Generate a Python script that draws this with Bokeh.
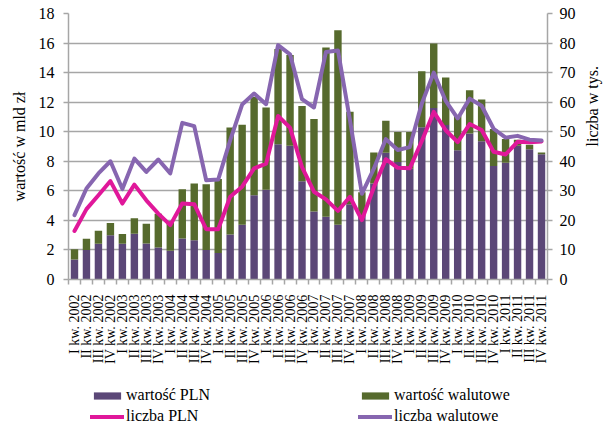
import math
from bokeh.plotting import figure
from bokeh.layouts import column
from bokeh.models import (Range1d, LinearAxis, FixedTicker, Legend, LegendItem,
                          ColumnDataSource, Grid, CustomJSTickFormatter)
from bokeh.embed import file_html
from bokeh.resources import INLINE

quarters = [
    "I kw. 2002", "II kw. 2002", "III kw. 2002", "IV kw. 2002",
    "I kw. 2003", "II kw. 2003", "III kw. 2003", "IV kw. 2003",
    "I kw. 2004", "II kw. 2004", "III kw. 2004", "IV kw. 2004",
    "I kw. 2005", "II kw. 2005", "III kw. 2005", "IV kw. 2005",
    "I kw. 2006", "II kw. 2006", "III kw. 2006", "IV kw. 2006",
    "I kw. 2007", "II kw. 2007", "III kw. 2007", "IV kw. 2007",
    "I kw. 2008", "II kw. 2008", "III kw. 2008", "IV kw. 2008",
    "I kw. 2009", "II kw. 2009", "III kw. 2009", "IV kw. 2009",
    "I kw. 2010", "II kw. 2010", "III kw. 2010", "IV kw. 2010",
    "I kw. 2011", "II kw. 2011", "III kw. 2011", "IV kw. 2011",
]

# wartość (mld zł)
wartosc_pln = [1.35, 2.0, 2.42, 3.0, 2.42, 3.1, 2.44, 2.17, 1.95, 2.78,
               2.65, 2.0, 1.8, 3.05, 3.7, 5.7, 6.08, 9.15, 9.05, 6.65,
               4.6, 4.24, 3.7, 5.1, 4.3, 6.5, 8.57, 7.95, 7.5, 10.3,
               11.6, 10.45, 8.75, 9.88, 9.36, 7.68, 7.9, 9.05, 8.82, 8.48]
wartosc_razem = [2.05, 2.75, 3.3, 3.82, 3.08, 4.15, 3.78, 4.45, 3.95, 6.1,
                 6.5, 6.45, 6.8, 10.28, 10.47, 12.35, 11.64, 15.6, 15.2, 11.74,
                 10.86, 15.7, 16.87, 11.35, 5.9, 8.6, 10.74, 9.98, 9.98, 14.1,
                 15.97, 13.67, 11.1, 12.81, 12.18, 10.18, 9.5, 9.45, 9.12, 8.6]
wartosc_walutowe = [round(t - p, 2) for t, p in zip(wartosc_razem, wartosc_pln)]

# liczba (tys.)
liczba_pln = [16.4, 23.8, 28.5, 33.3, 25.7, 32.1, 26.8, 22.3, 18.4, 25.7,
              25.5, 17.0, 17.0, 28.0, 31.4, 37.6, 39.2, 55.3, 51.4, 38.0,
              29.7, 27.1, 23.2, 28.0, 20.1, 31.2, 40.7, 37.8, 37.6, 46.8,
              56.7, 50.5, 46.5, 52.6, 50.6, 43.2, 42.3, 46.6, 46.4, 46.7]
liczba_walutowe = [21.8, 30.8, 35.9, 40.0, 30.6, 40.9, 36.4, 40.6, 35.9, 53.0,
                   51.9, 33.6, 33.8, 47.1, 59.2, 62.9, 59.3, 79.3, 76.2, 61.0,
                   58.2, 77.0, 77.5, 54.0, 29.0, 37.5, 47.5, 43.8, 44.8, 59.5,
                   70.0, 60.4, 54.5, 61.2, 58.8, 51.0, 48.0, 48.6, 47.3, 47.0]

left_ticks = [0, 2, 4, 6, 8, 10, 12, 14, 16, 18]
right_ticks = [0, 10, 20, 30, 40, 50, 60, 70, 80, 90]

FONT = "Liberation Serif"
C_PLN = "#5b4777"
C_WAL = "#566a2d"
C_LPLN = "#e0189a"
C_LWAL = "#8766b0"
GRID = "#a6a6a6"

n = len(quarters)
xpos = [i + 0.5 for i in range(n)]          # category centres
xbounds = [i for i in range(n + 1)]         # category boundaries (tick marks)

src = ColumnDataSource(dict(x=xpos, pln=wartosc_pln, wal=wartosc_walutowe,
                            lp=liczba_pln, lw=liczba_walutowe))

p = figure(width=614, height=380,
           x_range=Range1d(0, n), y_range=Range1d(0, 18),
           output_backend="svg", toolbar_location=None,
           x_axis_location=None, y_axis_location=None,
           min_border_left=68, min_border_right=67,
           min_border_top=13, min_border_bottom=101)
p.outline_line_color = None
p.background_fill_color = "white"
p.border_fill_color = "white"
p.grid.visible = False

p.extra_y_ranges = {"right": Range1d(0, 90)}

left_ticker = FixedTicker(ticks=left_ticks)
p.add_layout(Grid(dimension=1, ticker=left_ticker, grid_line_color=GRID,
                  grid_line_width=1.5), "center")

def style_axis(ax):
    ax.axis_line_color = GRID
    ax.axis_line_width = 1.5
    ax.major_tick_line_color = GRID
    ax.major_tick_line_width = 1.5
    ax.major_tick_in = 0
    ax.major_tick_out = 5
    ax.minor_tick_line_color = None
    ax.major_label_text_font = FONT
    ax.major_label_text_font_size = "16px"
    ax.major_label_text_color = "black"
    ax.axis_label_text_font = FONT
    ax.axis_label_text_font_size = "16px"
    ax.axis_label_text_font_style = "normal"
    ax.axis_label_text_color = "black"

yl = LinearAxis(ticker=left_ticker, axis_label="wartość w mld zł")
style_axis(yl)
yl.major_label_standoff = 9
yl.axis_label_standoff = 8
p.add_layout(yl, "left")

yr = LinearAxis(y_range_name="right", ticker=FixedTicker(ticks=right_ticks),
                axis_label="liczba w tys.")
style_axis(yr)
yr.major_label_standoff = 7
yr.axis_label_standoff = 14
if "axis_label_orientation" in yr.properties():
    yr.axis_label_orientation = math.pi / 2
p.add_layout(yr, "right")

# quarter labels at centres, boundary tick marks as minor ticks
xc = LinearAxis(ticker=FixedTicker(ticks=xpos, minor_ticks=xbounds),
                formatter=CustomJSTickFormatter(args=dict(labels=quarters),
                                                code="return labels[Math.floor(tick)];"))
style_axis(xc)
xc.major_tick_line_color = None
xc.major_tick_out = 0
xc.minor_tick_line_color = GRID
xc.minor_tick_line_width = 1.5
xc.minor_tick_in = 0
xc.minor_tick_out = 5
xc.major_label_text_font_size = "14px"
xc.major_label_orientation = math.pi / 2
xc.major_label_standoff = 10
p.add_layout(xc, "below")

bars = p.vbar_stack(["pln", "wal"], x="x", width=0.62, source=src,
                    fill_color=[C_PLN, C_WAL], line_color=None)
r_lp = p.line(x="x", y="lp", source=src, y_range_name="right",
              line_color=C_LPLN, line_width=4, line_join="round", line_cap="round")
r_lw = p.line(x="x", y="lw", source=src, y_range_name="right",
              line_color=C_LWAL, line_width=4, line_join="round", line_cap="round")

# legend strip below the chart (same series, drawn outside its visible range,
# so only the legend keys show)
lf = figure(width=614, height=43, x_range=Range1d(0, n), y_range=Range1d(500, 501),
            output_backend="svg", toolbar_location=None,
            x_axis_location=None, y_axis_location=None,
            min_border_left=0, min_border_right=0,
            min_border_top=0, min_border_bottom=0)
lf.outline_line_color = None
lf.grid.visible = False
lf.background_fill_color = "white"
lf.border_fill_color = "white"
g_bars = lf.vbar_stack(["pln", "wal"], x="x", width=0.62, source=src,
                       fill_color=[C_PLN, C_WAL], line_color=None)
g_lp = lf.line(x="x", y="lp", source=src, line_color=C_LPLN, line_width=4,
               line_cap="round")
g_lw = lf.line(x="x", y="lw", source=src, line_color=C_LWAL, line_width=4,
               line_cap="round")

def make_legend(items, loc):
    return Legend(items=items, location=loc, orientation="vertical",
                  background_fill_alpha=0, border_line_color=None,
                  padding=0, margin=0, spacing=0,
                  glyph_width=34, glyph_height=9, label_height=21,
                  label_standoff=2,
                  label_text_font=FONT, label_text_font_size="16px",
                  label_text_color="black")

lf.add_layout(make_legend([LegendItem(label="wartość PLN", renderers=[g_bars[0]]),
                           LegendItem(label="liczba PLN", renderers=[g_lp])],
                          (22, -3.5)), "center")
lf.add_layout(make_legend([LegendItem(label="wartość walutowe", renderers=[g_bars[1]]),
                           LegendItem(label="liczba walutowe", renderers=[g_lw])],
                          (290, -3.5)), "center")

layout = column(p, lf, spacing=0)
open("out.html", "w").write(file_html(layout, INLINE))
